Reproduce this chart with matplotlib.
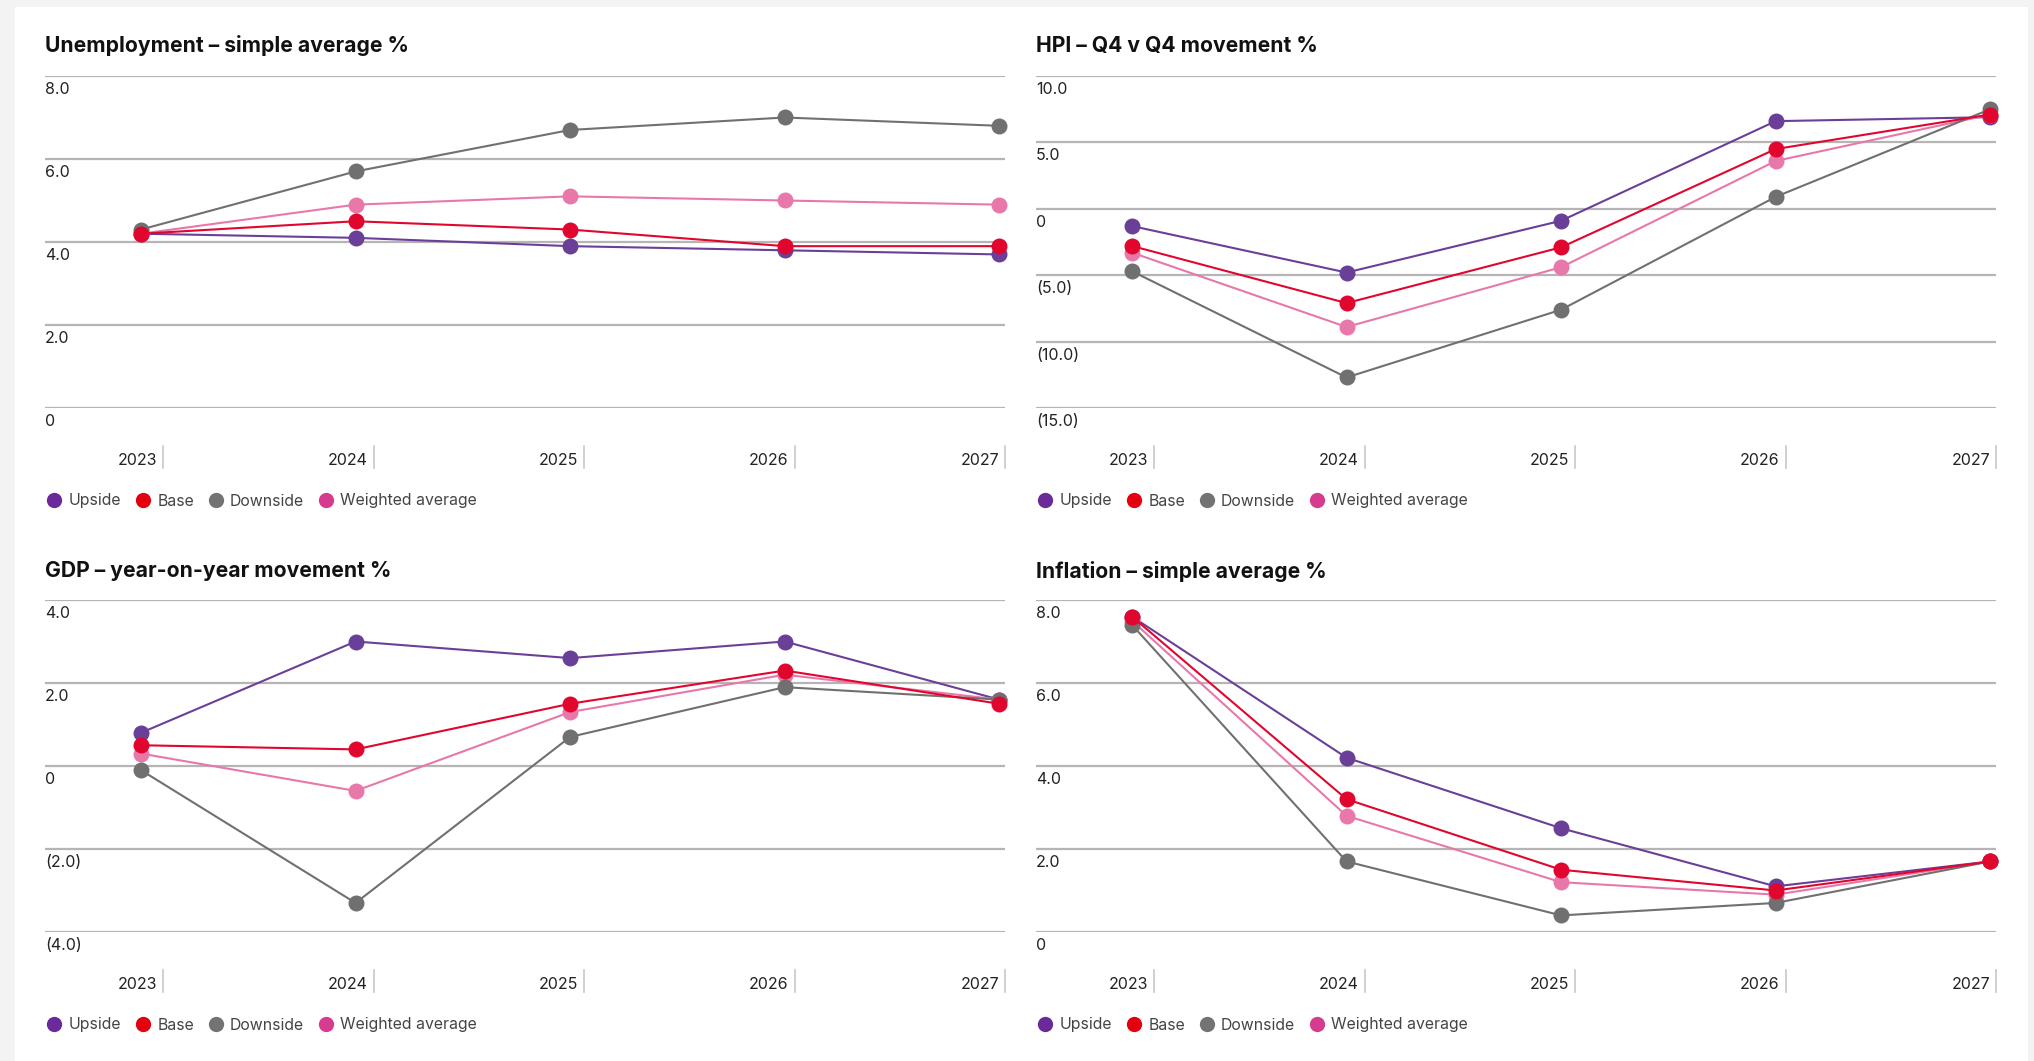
import matplotlib
matplotlib.use("Agg")
import matplotlib.pyplot as plt
from matplotlib.patches import Rectangle
from matplotlib.lines import Line2D
import matplotlib.transforms as mtransforms

plt.rcParams['font.family'] = ['Inter', 'DejaVu Sans']

# ---------------- data ----------------
years = ["2023", "2024", "2025", "2026", "2027"]
series_names = ["Upside", "Base", "Downside", "Weighted average"]

unemp_upside = [4.2, 4.1, 3.9, 3.8, 3.7]
unemp_base = [4.2, 4.5, 4.3, 3.9, 3.9]
unemp_downside = [4.3, 5.7, 6.7, 7.0, 6.8]
unemp_weighted = [4.2, 4.9, 5.1, 5.0, 4.9]

hpi_upside = [-1.3, -4.8, -0.9, 6.6, 6.9]
hpi_base = [-2.8, -7.1, -2.9, 4.5, 7.1]
hpi_downside = [-4.7, -12.7, -7.6, 0.9, 7.5]
hpi_weighted = [-3.3, -8.9, -4.4, 3.6, 7.1]

gdp_upside = [0.8, 3.0, 2.6, 3.0, 1.6]
gdp_base = [0.5, 0.4, 1.5, 2.3, 1.5]
gdp_downside = [-0.1, -3.3, 0.7, 1.9, 1.6]
gdp_weighted = [0.3, -0.6, 1.3, 2.2, 1.6]

infl_upside = [7.6, 4.2, 2.5, 1.1, 1.7]
infl_base = [7.6, 3.2, 1.5, 1.0, 1.7]
infl_downside = [7.4, 1.7, 0.4, 0.7, 1.7]
infl_weighted = [7.5, 2.8, 1.2, 0.9, 1.7]

titles = ["Unemployment \u2013 simple average %", "HPI \u2013 Q4 v Q4 movement %",
          "GDP \u2013 year-on-year movement %", "Inflation \u2013 simple average %"]

unemp_ticks = [0, 2, 4, 6, 8]
unemp_labels = ["0", "2.0", "4.0", "6.0", "8.0"]
hpi_ticks = [-15, -10, -5, 0, 5, 10]
hpi_labels = ["(15.0)", "(10.0)", "(5.0)", "0", "5.0", "10.0"]
gdp_ticks = [-4, -2, 0, 2, 4]
gdp_labels = ["(4.0)", "(2.0)", "0", "2.0", "4.0"]
infl_ticks = [0, 2, 4, 6, 8]
infl_labels = ["0", "2.0", "4.0", "6.0", "8.0"]

# ---------------- style ----------------
W, H = 2034, 1061
line_colors = {"Upside": "#6a3f98", "Base": "#e0062e", "Downside": "#707070",
               "Weighted average": "#e878aa"}
legend_colors = {"Upside": "#6a2a9a", "Base": "#e3000f", "Downside": "#737373",
                 "Weighted average": "#d63b8e"}
draw_order = ["Upside", "Weighted average", "Downside", "Base"]
grid_color = "#b5b5b5"

fig = plt.figure(figsize=(W / 100, H / 100), dpi=100, facecolor="#f3f3f3")
fig.patches.append(Rectangle((15 / W, 0), (2028 - 15) / W, (H - 7) / H,
                             transform=fig.transFigure, facecolor="white",
                             edgecolor="none", zorder=-10))

panels = [
    (titles[0], [unemp_upside, unemp_base, unemp_downside, unemp_weighted], unemp_ticks, unemp_labels),
    (titles[1], [hpi_upside, hpi_base, hpi_downside, hpi_weighted], hpi_ticks, hpi_labels),
    (titles[2], [gdp_upside, gdp_base, gdp_downside, gdp_weighted], gdp_ticks, gdp_labels),
    (titles[3], [infl_upside, infl_base, infl_downside, infl_weighted], infl_ticks, infl_labels),
]

# pixel boxes: left, right, top, bottom
boxes = [(45, 1005, 76, 408), (1036, 1996, 76, 408),
         (45, 1005, 600, 932), (1036, 1996, 600, 932)]

x_pos = list(range(len(years)))
frac_unit = 0.2235
x_left = -0.1 / frac_unit
x_right = x_left + 1 / frac_unit

for (title, data, ticks, labels), (l, r, t, b) in zip(panels, boxes):
    ax = fig.add_axes([l / W, 1 - b / H, (r - l) / W, (b - t) / H])
    ax.set_zorder(1)
    ax.set_facecolor("none")
    for s in ax.spines.values():
        s.set_visible(False)
    ax.set_xlim(x_left, x_right)
    ax.set_ylim(min(ticks), max(ticks))
    ax.set_xticks([])
    ax.set_yticks([])
    for v in ticks:
        ax.axhline(v, color=grid_color, lw=1.6, zorder=1)
    trans = mtransforms.blended_transform_factory(ax.transAxes, ax.transData)
    for v, lab in zip(ticks, labels):
        ax.annotate(lab, xy=(0, v), xycoords=trans, xytext=(0, -6),
                    textcoords="offset pixels", ha="left", va="top",
                    fontsize=11.5, color="#222222")
    # x tick labels and small separators
    for i, yr in enumerate(years):
        fx = 0.1233 + 0.21918 * i
        ax.plot([fx, fx], [-0.115, -0.182], transform=ax.transAxes,
                color="#c8c8c8", lw=1.2, clip_on=False)
        ax.text(fx - 0.006, -0.157, yr, transform=ax.transAxes, ha="right",
                va="center", fontsize=11.5, color="#222222")
    # series
    series = dict(zip(series_names, data))
    for name in draw_order:
        ax.plot(x_pos, series[name], color=line_colors[name], lw=1.5,
                marker="o", markersize=11.5, markeredgewidth=0,
                zorder=3, clip_on=False)
    # title
    ty = 46 if t < 500 else 571
    fig.text(l / W, 1 - ty / H, title, ha="left", va="center",
             fontsize=15.2, fontweight="bold", color="#111111")
    # legend
    handles = [Line2D([], [], lw=0, marker="o", markersize=11,
                      markerfacecolor=legend_colors[n], markeredgewidth=0)
               for n in series_names]
    ly = 501 if t < 500 else 1025
    leg = fig.legend(handles, series_names, loc="center left",
                     bbox_to_anchor=((l + 3) / W, 1 - ly / H), ncol=4,
                     frameon=False, fontsize=11.4, handlelength=0.8,
                     handletextpad=0.5, columnspacing=0.98, borderaxespad=0,
                     borderpad=0)
    for txt in leg.get_texts():
        txt.set_color("#444444")

fig.savefig("out.png", dpi=100, facecolor=fig.get_facecolor())
